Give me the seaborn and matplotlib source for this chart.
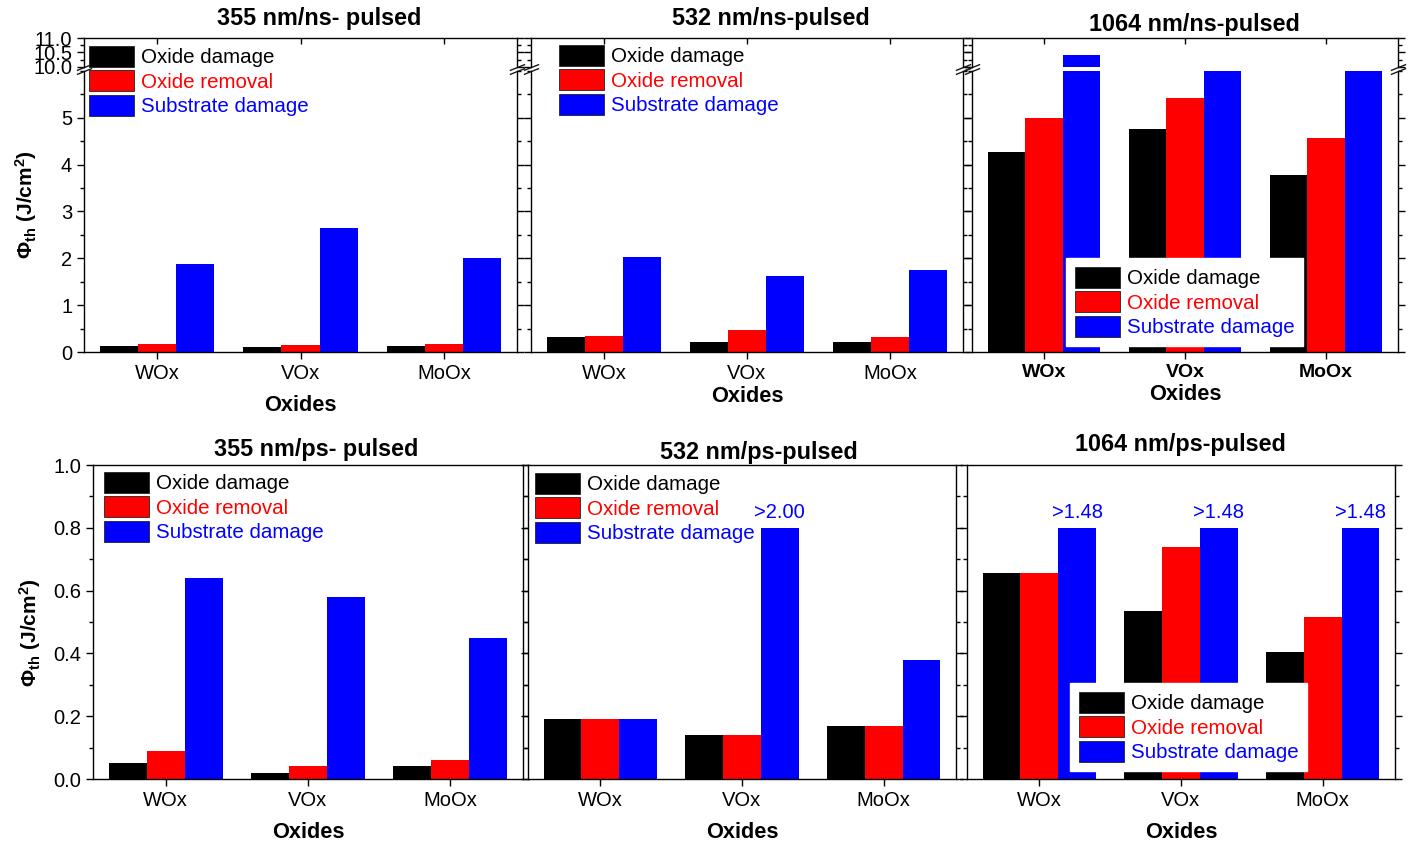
import pandas as pd
import matplotlib.pyplot as plt
import seaborn as sns
from matplotlib.patches import Patch
from matplotlib.ticker import MultipleLocator, FormatStrFormatter

# categories
oxides = ['WOx', 'VOx', 'MoOx']
kinds = ['Oxide damage', 'Oxide removal', 'Substrate damage']
colors = ['#000000', '#FF0000', '#0000FF']

# ns-pulsed thresholds (J/cm2)
ns355_damage = [0.13, 0.10, 0.13]
ns355_removal = [0.18, 0.15, 0.17]
ns355_substrate = [1.87, 2.64, 2.00]
ns532_damage = [0.32, 0.22, 0.22]
ns532_removal = [0.35, 0.47, 0.33]
ns532_substrate = [2.02, 1.63, 1.76]
ns1064_damage = [4.28, 4.77, 3.77]
ns1064_removal = [4.99, 5.42, 4.58]
ns1064_substrate = [10.42, 10.0, 10.0]

# ps-pulsed thresholds (J/cm2), capped bars drawn at 0.8
ps355_damage = [0.05, 0.02, 0.04]
ps355_removal = [0.09, 0.04, 0.06]
ps355_substrate = [0.64, 0.58, 0.45]
ps532_damage = [0.19, 0.14, 0.17]
ps532_removal = [0.19, 0.14, 0.17]
ps532_substrate = [0.19, 0.80, 0.38]
ps532_notes = ['', '>2.00', '']
ps1064_damage = [0.655, 0.535, 0.405]
ps1064_removal = [0.655, 0.74, 0.515]
ps1064_substrate = [0.80, 0.80, 0.80]
ps1064_notes = ['>1.48', '>1.48', '>1.48']

sns.set_theme(style='ticks')
plt.rcParams['font.family'] = ['Liberation Sans', 'DejaVu Sans']
plt.rcParams['mathtext.default'] = 'regular'
plt.rcParams['axes.edgecolor'] = 'black'
plt.rcParams['axes.labelcolor'] = 'black'
plt.rcParams['text.color'] = 'black'
plt.rcParams['xtick.color'] = 'black'
plt.rcParams['ytick.color'] = 'black'
plt.rcParams['axes.linewidth'] = 1.0

W, H = 1411, 847
fig = plt.figure(figsize=(W / 100, H / 100), dpi=100)


def rect(l, t, r, b):
    return [l / W, 1 - b / H, (r - l) / W, (b - t) / H]


def make_df(damage, removal, substrate):
    return pd.DataFrame({
        'oxide': oxides * 3,
        'kind': [k for k in kinds for _ in oxides],
        'value': damage + removal + substrate,
    })


def bars(ax, df):
    sns.barplot(data=df, x='oxide', y='value', hue='kind', order=oxides,
                hue_order=kinds, palette=colors, saturation=1, width=0.8,
                linewidth=0, errorbar=None, legend=False, ax=ax)
    ax.set_xlim(-0.51, 2.51)
    ax.set_xlabel('')
    ax.set_ylabel('')


def yticks(ax, labels):
    ax.tick_params(axis='y', which='both', direction='out', right=True,
                   labelsize=14.5, labelleft=labels, width=1)
    ax.tick_params(axis='y', which='major', length=5)
    ax.tick_params(axis='y', which='minor', length=3)


def break_marks(ax, y):
    ax.plot([0, 1], [y, y], transform=ax.transAxes, marker=[(-1, -0.4), (1, 0.4)],
            markersize=11, linestyle='none', color='k', mec='k', mew=1, clip_on=False)


def legend(x, y, boxed=False):
    handles = [Patch(facecolor=c, edgecolor='#222222', linewidth=0.6) for c in colors]
    leg = fig.legend(handles, kinds, loc='upper left', bbox_to_anchor=(x / W, 1 - y / H),
                     fontsize=14.8, handlelength=2.2, handleheight=1.2,
                     labelspacing=0.15, handletextpad=0.35, borderpad=0.42,
                     borderaxespad=0, frameon=boxed, fancybox=False,
                     facecolor='white', edgecolor='white', framealpha=1)
    for t, c in zip(leg.get_texts(), colors):
        t.set_color(c)


# ========== top row: ns-pulsed, broken y axis ==========
top_panels = [
    ('355 nm/ns- pulsed', ns355_damage, ns355_removal, ns355_substrate, 84, 517, 319, 19, 9),
    ('532 nm/ns-pulsed', ns532_damage, ns532_removal, ns532_substrate, 531, 963, 771, 19, 2),
    ('1064 nm/ns-pulsed', ns1064_damage, ns1064_removal, ns1064_substrate, 972, 1398, 1194, 25, 2),
]
for i, (title, d, r, s, left, right, tx, ty, lp) in enumerate(top_panels):
    df = make_df(d, r, s)
    low = fig.add_axes(rect(left, 71, right, 352))
    up = fig.add_axes(rect(left, 38, right, 67))
    bars(low, df)
    bars(up, df)
    low.set_ylim(0, 6.0)
    up.set_ylim(10, 11)
    low.spines['top'].set_visible(False)
    up.spines['bottom'].set_visible(False)

    low.set_yticks([0, 1, 2, 3, 4, 5])
    low.yaxis.set_minor_locator(MultipleLocator(0.5))
    up.set_yticks([10, 10.5, 11])
    up.yaxis.set_major_formatter(FormatStrFormatter('%.1f'))
    up.yaxis.set_minor_locator(MultipleLocator(0.25))
    yticks(low, i == 0)
    yticks(up, i == 0)

    low.tick_params(axis='x', direction='out', length=5, width=1, labelsize=14.5)
    up.tick_params(axis='x', bottom=False, labelbottom=False, top=True,
                   direction='in', length=4, width=1)
    if i == 2:
        for t in low.get_xticklabels():
            t.set_fontweight('bold')
            t.set_fontsize(14)
    low.set_xlabel('Oxides', fontsize=15.7, fontweight='bold', labelpad=lp)

    break_marks(up, 0)
    break_marks(low, 1)
    fig.text(tx / W, 1 - ty / H, title, ha='center', va='center',
             fontsize=16.8, fontweight='bold')

legend(80, 37)
legend(550, 36)
legend(1066, 258, boxed=True)

# ========== bottom row: ps-pulsed ==========
bottom_panels = [
    ('355 nm/ps- pulsed', ps355_damage, ps355_removal, ps355_substrate, None, 93, 523, 316, 449, 9),
    ('532 nm/ps-pulsed', ps532_damage, ps532_removal, ps532_substrate, ps532_notes, 528, 956, 759, 452, 8.5),
    ('1064 nm/ps-pulsed', ps1064_damage, ps1064_removal, ps1064_substrate, ps1064_notes, 967, 1395, 1180, 444, 9),
]
for i, (title, d, r, s, notes, left, right, tx, ty, lp) in enumerate(bottom_panels):
    df = make_df(d, r, s)
    ax = fig.add_axes(rect(left, 465, right, 779))
    bars(ax, df)
    ax.set_ylim(0, 1.0)
    ax.set_yticks([0, 0.2, 0.4, 0.6, 0.8, 1.0])
    ax.yaxis.set_major_formatter(FormatStrFormatter('%.1f'))
    ax.yaxis.set_minor_locator(MultipleLocator(0.1))
    yticks(ax, i == 0)
    ax.tick_params(axis='x', direction='out', length=5, width=1, labelsize=14.5)
    ax.set_xlabel('Oxides', fontsize=15.7, fontweight='bold', labelpad=lp)
    if notes is not None:
        ax.bar_label(ax.containers[-1], labels=notes, padding=4,
                     color='#0000FF', fontsize=14.5)
    fig.text(tx / W, 1 - ty / H, title, ha='center', va='center',
             fontsize=16.8, fontweight='bold')

legend(95, 463)
legend(526, 464)
legend(1070, 683, boxed=True)

# y axis labels
ylab = 'Φ$_{th}$ (J/cm$^{2}$)'
fig.text(26 / W, 1 - 205 / H, ylab, rotation=90, ha='center', va='center',
         fontsize=15, fontweight='bold')
fig.text(30 / W, 1 - 633 / H, ylab, rotation=90, ha='center', va='center',
         fontsize=15, fontweight='bold')

plt.savefig('out.png', dpi=100)
